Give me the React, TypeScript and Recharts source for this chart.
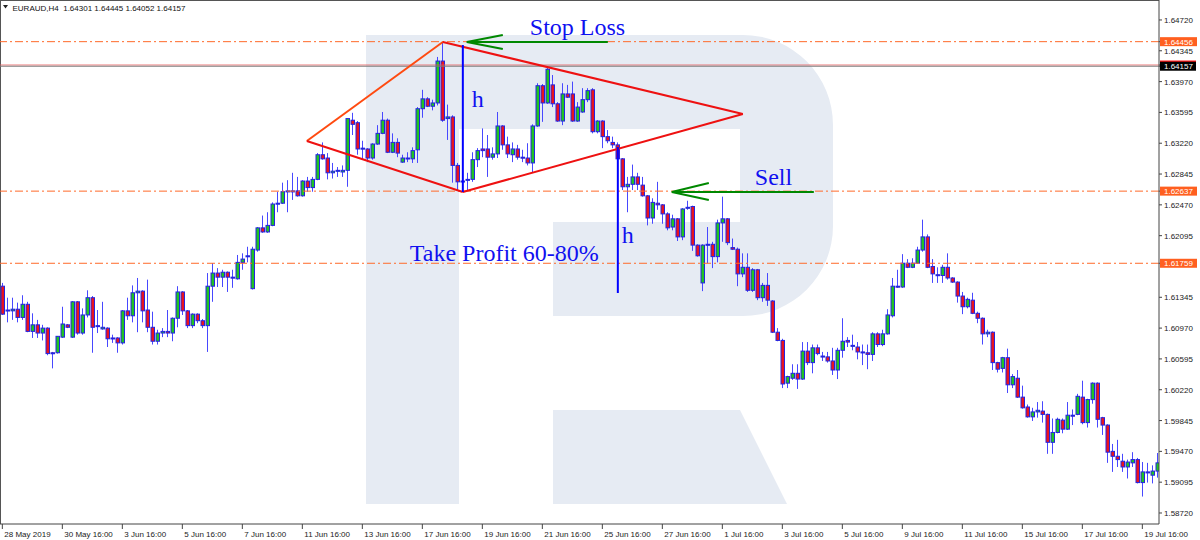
import React from 'react';
import { ComposedChart, Bar, XAxis, YAxis, ReferenceLine, ReferenceDot } from 'recharts';

// ---- candle data (EURAUD H4), one entry per bar ----
const opens = [
1.6148,1.6119,1.6118,1.6120,1.6110,1.6126,1.6093,1.6101,1.6091,1.6097,
1.6067,1.6067,1.6086,1.6101,1.6086,1.6129,1.6091,1.6113,1.6134,1.6099,
1.6096,1.6097,1.6085,1.6085,1.6079,1.6118,1.6112,1.6140,1.6142,1.6119,
1.6098,1.6081,1.6091,1.6093,1.6091,1.6109,1.6141,1.6118,1.6100,1.6114,
1.6106,1.6100,1.6148,1.6164,1.6159,1.6165,1.6159,1.6157,1.6177,1.6184,
1.6145,1.6192,1.6219,1.6214,1.6222,1.6248,1.6249,1.6263,1.6264,1.6264,
1.6258,1.6276,1.6268,1.6278,1.6308,1.6304,1.6286,1.6288,1.6287,1.6289,
1.6350,1.6347,1.6315,1.6315,1.6304,1.6321,1.6334,1.6350,1.6311,1.6323,
1.6299,1.6304,1.6303,1.6314,1.6364,1.6376,1.6367,1.6371,1.6422,1.6352,
1.6354,1.6295,1.6275,1.6277,1.6278,1.6302,1.6315,1.6315,1.6305,1.6309,
1.6343,1.6320,1.6308,1.6315,1.6305,1.6304,1.6298,1.6343,1.6392,1.6371,
1.6393,1.6370,1.6349,1.6382,1.6382,1.6349,1.6360,1.6375,1.6387,1.6336,
1.6349,1.6330,1.6323,1.6320,1.6303,1.6269,1.6272,1.6281,1.6271,1.6258,
1.6231,1.6249,1.6247,1.6236,1.6220,1.6230,1.6208,1.6243,1.6245,1.6198,
1.6152,1.6198,1.6199,1.6184,1.6225,1.6230,1.6195,1.6193,1.6163,1.6171,
1.6143,1.6168,1.6134,1.6149,1.6130,1.6092,1.6082,1.6030,1.6036,1.6042,
1.6035,1.6069,1.6055,1.6073,1.6063,1.6062,1.6057,1.6046,1.6070,1.6082,
1.6075,1.6074,1.6068,1.6067,1.6065,1.6090,1.6077,1.6090,1.6112,1.6148,
1.6147,1.6176,1.6171,1.6176,1.6192,1.6208,1.6172,1.6162,1.6161,1.6171,
1.6158,1.6153,1.6136,1.6123,1.6131,1.6115,1.6109,1.6090,1.6092,1.6055,
1.6048,1.6061,1.6028,1.6036,1.6013,1.6001,1.5989,1.5995,1.5996,1.5992,
1.5958,1.5970,1.5985,1.5974,1.5991,1.5992,1.6013,1.5982,1.6010,1.6030,
1.5988,1.5979,1.5947,1.5941,1.5935,1.5928,1.5933,1.5937,1.5909,1.5922,
1.5918,1.5923];
const highs = [
1.6152,1.6134,1.6134,1.6128,1.6137,1.6129,1.6115,1.6107,1.6101,1.6098,
1.6068,1.6087,1.6123,1.6102,1.6130,1.6130,1.6121,1.6143,1.6136,1.6119,
1.6129,1.6098,1.6089,1.6086,1.6119,1.6134,1.6149,1.6158,1.6143,1.6156,
1.6117,1.6095,1.6097,1.6119,1.6110,1.6148,1.6142,1.6119,1.6115,1.6115,
1.6108,1.6164,1.6176,1.6170,1.6168,1.6166,1.6168,1.6186,1.6188,1.6196,
1.6196,1.6220,1.6234,1.6238,1.6250,1.6263,1.6274,1.6277,1.6286,1.6281,
1.6277,1.6281,1.6281,1.6310,1.6323,1.6310,1.6298,1.6293,1.6295,1.6352,
1.6359,1.6349,1.6325,1.6316,1.6322,1.6344,1.6360,1.6352,1.6334,1.6328,
1.6308,1.6311,1.6317,1.6366,1.6387,1.6378,1.6375,1.6427,1.6445,1.6369,
1.6356,1.6298,1.6289,1.6286,1.6311,1.6316,1.6340,1.6332,1.6317,1.6360,
1.6344,1.6330,1.6323,1.6320,1.6314,1.6322,1.6345,1.6395,1.6394,1.6414,
1.6405,1.6372,1.6395,1.6393,1.6397,1.6372,1.6389,1.6389,1.6389,1.6350,
1.6350,1.6338,1.6330,1.6323,1.6304,1.6281,1.6296,1.6286,1.6281,1.6259,
1.6255,1.6275,1.6248,1.6238,1.6235,1.6231,1.6243,1.6252,1.6246,1.6199,
1.6199,1.6220,1.6202,1.6229,1.6257,1.6231,1.6206,1.6195,1.6188,1.6188,
1.6170,1.6169,1.6152,1.6164,1.6131,1.6097,1.6084,1.6039,1.6053,1.6053,
1.6080,1.6080,1.6077,1.6077,1.6068,1.6068,1.6073,1.6073,1.6109,1.6086,
1.6089,1.6080,1.6077,1.6077,1.6092,1.6092,1.6095,1.6120,1.6158,1.6168,
1.6187,1.6181,1.6182,1.6196,1.6229,1.6211,1.6181,1.6171,1.6174,1.6188,
1.6159,1.6154,1.6141,1.6134,1.6140,1.6117,1.6110,1.6095,1.6093,1.6056,
1.6062,1.6072,1.6041,1.6046,1.6027,1.6004,1.6000,1.6007,1.6008,1.5993,
1.5987,1.5988,1.5987,1.6007,1.5998,1.6017,1.6033,1.6011,1.6031,1.6031,
1.5989,1.5980,1.5956,1.5961,1.5944,1.5937,1.5946,1.5939,1.5934,1.5933,
1.5930,1.5945];
const lows = [
1.6113,1.6104,1.6107,1.6104,1.6107,1.6092,1.6085,1.6085,1.6082,1.6064,
1.6048,1.6066,1.6085,1.6097,1.6085,1.6089,1.6089,1.6110,1.6067,1.6091,
1.6095,1.6074,1.6079,1.6067,1.6077,1.6107,1.6104,1.6092,1.6104,1.6092,
1.6077,1.6077,1.6086,1.6086,1.6081,1.6098,1.6113,1.6097,1.6097,1.6103,
1.6097,1.6068,1.6129,1.6147,1.6147,1.6141,1.6146,1.6156,1.6168,1.6177,
1.6144,1.6190,1.6213,1.6213,1.6221,1.6238,1.6248,1.6238,1.6253,1.6257,
1.6257,1.6263,1.6263,1.6277,1.6302,1.6278,1.6279,1.6281,1.6281,1.6269,
1.6332,1.6308,1.6302,1.6299,1.6302,1.6320,1.6333,1.6310,1.6310,1.6305,
1.6298,1.6299,1.6298,1.6298,1.6353,1.6366,1.6362,1.6368,1.6348,1.6326,
1.6274,1.6265,1.6269,1.6265,1.6275,1.6293,1.6305,1.6281,1.6302,1.6304,
1.6314,1.6304,1.6299,1.6302,1.6299,1.6295,1.6286,1.6342,1.6348,1.6370,
1.6366,1.6348,1.6344,1.6377,1.6348,1.6348,1.6359,1.6372,1.6334,1.6334,
1.6316,1.6322,1.6316,1.6295,1.6265,1.6238,1.6265,1.6265,1.6257,1.6222,
1.6224,1.6241,1.6224,1.6216,1.6216,1.6203,1.6204,1.6241,1.6191,1.6184,
1.6142,1.6176,1.6170,1.6177,1.6202,1.6198,1.6192,1.6148,1.6159,1.6141,
1.6141,1.6131,1.6129,1.6124,1.6091,1.6081,1.6024,1.6024,1.6034,1.6023,
1.6034,1.6052,1.6042,1.6064,1.6057,1.6055,1.6040,1.6035,1.6061,1.6074,
1.6070,1.6059,1.6052,1.6047,1.6057,1.6074,1.6075,1.6089,1.6110,1.6146,
1.6146,1.6170,1.6170,1.6175,1.6190,1.6170,1.6152,1.6152,1.6152,1.6156,
1.6152,1.6128,1.6114,1.6121,1.6114,1.6103,1.6077,1.6086,1.6046,1.6043,
1.6043,1.6018,1.6024,1.6012,1.5999,1.5988,1.5984,1.5988,1.5982,1.5944,
1.5944,1.5969,1.5969,1.5973,1.5979,1.5991,1.5980,1.5976,1.6005,1.5976,
1.5967,1.5933,1.5922,1.5928,1.5922,1.5914,1.5928,1.5908,1.5892,1.5909,
1.5908,1.5915];
const closes = [
1.6114,1.6118,1.6120,1.6110,1.6126,1.6093,1.6101,1.6091,1.6097,1.6066,
1.6066,1.6087,1.6102,1.6098,1.6129,1.6091,1.6113,1.6134,1.6098,1.6100,
1.6098,1.6084,1.6084,1.6079,1.6118,1.6112,1.6140,1.6142,1.6118,1.6098,
1.6081,1.6091,1.6093,1.6091,1.6109,1.6141,1.6118,1.6100,1.6114,1.6106,
1.6100,1.6148,1.6164,1.6159,1.6165,1.6159,1.6158,1.6177,1.6181,1.6185,
1.6193,1.6219,1.6214,1.6222,1.6248,1.6249,1.6263,1.6264,1.6263,1.6258,
1.6276,1.6268,1.6278,1.6308,1.6303,1.6286,1.6288,1.6289,1.6289,1.6352,
1.6345,1.6315,1.6316,1.6304,1.6321,1.6334,1.6350,1.6311,1.6323,1.6310,
1.6304,1.6303,1.6313,1.6364,1.6376,1.6367,1.6371,1.6422,1.6350,1.6354,
1.6295,1.6275,1.6276,1.6278,1.6302,1.6313,1.6313,1.6305,1.6309,1.6343,
1.6320,1.6309,1.6315,1.6305,1.6304,1.6298,1.6343,1.6392,1.6371,1.6412,
1.6370,1.6349,1.6382,1.6378,1.6349,1.6366,1.6375,1.6386,1.6336,1.6349,
1.6330,1.6325,1.6320,1.6303,1.6269,1.6272,1.6281,1.6272,1.6258,1.6231,
1.6250,1.6247,1.6236,1.6219,1.6230,1.6208,1.6242,1.6244,1.6198,1.6185,
1.6198,1.6199,1.6184,1.6225,1.6230,1.6201,1.6193,1.6163,1.6171,1.6143,
1.6168,1.6134,1.6149,1.6131,1.6092,1.6082,1.6029,1.6038,1.6042,1.6035,
1.6069,1.6055,1.6073,1.6066,1.6062,1.6057,1.6046,1.6070,1.6081,1.6080,
1.6076,1.6068,1.6067,1.6065,1.6090,1.6077,1.6090,1.6113,1.6148,1.6147,
1.6176,1.6171,1.6176,1.6192,1.6208,1.6171,1.6163,1.6161,1.6171,1.6158,
1.6153,1.6136,1.6123,1.6132,1.6115,1.6109,1.6090,1.6092,1.6055,1.6047,
1.6061,1.6028,1.6038,1.6013,1.6000,1.5989,1.5995,1.5997,1.5992,1.5958,
1.5970,1.5986,1.5974,1.5991,1.5990,1.6014,1.5982,1.6010,1.6030,1.5986,
1.5979,1.5946,1.5941,1.5937,1.5928,1.5934,1.5937,1.5909,1.5922,1.5921,
1.5923,1.5933];

// ---- axes ----
const timeTickIndex = [0,12,24,36,48,60,72,84,96,108,120,132,144,156,168,180,192,204,216,228];
const timeTickLabels = ['28 May 2019','30 May 16:00','3 Jun 16:00','5 Jun 16:00','7 Jun 16:00','11 Jun 16:00','13 Jun 16:00','17 Jun 16:00','19 Jun 16:00','21 Jun 16:00','25 Jun 16:00','27 Jun 16:00','1 Jul 16:00','3 Jul 16:00','5 Jul 16:00','9 Jul 16:00','11 Jul 16:00','15 Jul 16:00','17 Jul 16:00','19 Jul 16:00'];
const priceTicks = [1.64720,1.64345,1.63970,1.63595,1.63220,1.62845,1.62470,1.62095,1.61345,1.60970,1.60595,1.60220,1.59845,1.59470,1.59095,1.58720];
const levelPrices = [1.64456, 1.62637, 1.61759];
const askPrice = 1.64172;
const bidPrice = 1.64157;
const titleText = 'EURAUD,H4  1.64301 1.64445 1.64052 1.64157';

// ---- pattern annotation (bar index, price) ----
const diamondK = [60.9, 88.1, 148.1, 92.1];
const diamondP = [1.63247, 1.64452, 1.63576, 1.62626];
const hK = [92.1, 123.1];
const hTop = [1.64415, 1.63174];
const hBottom = [1.62626, 1.61397];
const arrowTipK = [92.9, 133.9];
const arrowTailK = [121.1, 162.3];
const arrowP = [1.64452, 1.62626];
const arrowBarbK = [100.1, 141.3];
const arrowBarbUp = [1.64537, 1.62736];
const arrowBarbDown = [1.64367, 1.62529];
const noteTexts = ['Stop Loss', 'Take Profit 60-80%', 'Sell', 'h', 'h'];
const noteK = [105.5, 81.5, 150.5, 93.9, 123.9];
const noteP = [1.64537, 1.61787, 1.62712, 1.63661, 1.62006];

const data = opens.map((o, i) => ({ i, open: o, high: highs[i], low: lows[i], close: closes[i] }));

const FONT = "'Liberation Sans', Arial, sans-serif";
const SERIF = "'Liberation Serif', 'Times New Roman', serif";

const Candle = (props: any) => {
  const { x, y, width, height } = props;
  const d = props.payload || props;
  const { open, close, high, low } = d;
  if (x == null || y == null) return null;
  const cx = Math.round(x + width / 2) + 0.5;
  const span = high - low || 1e-9;
  const py = (v: number) => y + ((high - v) / span) * height;
  const yo = py(open);
  const yc = py(close);
  const top = Math.min(yo, yc);
  const bot = Math.max(yo, yc);
  const up = close > open;
  const down = close < open;
  return (
    <g>
      <line x1={cx} x2={cx} y1={y} y2={y + height} stroke="#4848ff" strokeWidth={1} />
      {up || down ? (
        <rect x={cx - 1.5} y={top} width={3.5} height={Math.max(bot - top, 1)}
          fill={up ? '#22c322' : '#e8141e'} stroke="#2424e0" strokeWidth={1} />
      ) : (
        <line x1={cx - 2} x2={cx + 2} y1={yo} y2={yo} stroke="#2424e0" strokeWidth={1.2} />
      )}
    </g>
  );
};

const TimeTick = (props: any) => {
  const { x, y, payload } = props;
  const idx = timeTickIndex.indexOf(payload.value);
  return (
    <text x={x + 2} y={y + 8} fontSize={8} fontFamily={FONT} fill="#222" textAnchor="start">
      {idx >= 0 ? timeTickLabels[idx] : ''}
    </text>
  );
};

const PriceTick = (props: any) => {
  const { x, y, payload } = props;
  const v = payload.value;
  const label = v.toFixed(5);
  if (v === askPrice) {
    return <rect x={x - 4} y={y - 4.5} width={36} height={9} fill="#ff1a1a" />;
  }
  if (v === bidPrice) {
    return (
      <g>
        <rect x={x - 4} y={y - 4.5} width={36} height={9} fill="#000" />
        <text x={x} y={y + 3} fontSize={8} fontFamily={FONT} fill="#fff">{label}</text>
      </g>
    );
  }
  if (levelPrices.includes(v)) {
    return (
      <g>
        <rect x={x - 4} y={y - 4.5} width={37} height={9} fill="#ff5f1f" />
        <text x={x} y={y + 3} fontSize={8} fontFamily={FONT} fill="#fff">{label}</text>
      </g>
    );
  }
  return (
    <text x={x} y={y + 3} fontSize={8} fontFamily={FONT} fill="#222">{label}</text>
  );
};

const makeNote = (text: string) => (p: any) => (
  <text x={p.cx} y={p.cy} fontSize={24} fontFamily={SERIF} fill="#1010f0">{text}</text>
);

export default function App() {
  const yTicks = [...priceTicks, askPrice, bidPrice, ...levelPrices];
  const edges = [[0, 1, '#ff4a10'], [1, 2, '#ee1111'], [2, 3, '#ee1111'], [3, 0, '#ee1111']] as const;
  return (
    <div style={{ position: 'absolute', left: 0, top: 0, width: 1200, height: 540, background: '#fff', overflow: 'hidden' }}>
      <svg width={1200} height={540} style={{ position: 'absolute', left: 0, top: 0 }}>
        <path d="M366,35 H743 A90,90 0 0 1 833,125 V226 A90,90 0 0 1 743,316 H553 V222 H740 V129 H459 V504 H366 Z" fill="#e6ebf3" />
        <path d="M553,410 H740 L787,504 H553 Z" fill="#e6ebf3" />
        <line x1={0.5} y1={0.5} x2={0.5} y2={524} stroke="#555" />
        <line x1={0} y1={0.5} x2={1159} y2={0.5} stroke="#555" />
        <polygon points="3,5 8,5 5.5,8.5" fill="#222" />
        <text x={12.5} y={10.5} fontSize={8} fontFamily={FONT} fill="#111" style={{ whiteSpace: 'pre' }}>{titleText}</text>
      </svg>
      <div style={{ position: 'absolute', left: 0, top: 0 }}>
        <ComposedChart width={1200} height={540} data={data} margin={{ top: 0, right: 0, bottom: 0, left: 0 }}>
          <XAxis type="number" dataKey="i" scale="linear" domain={[-0.467, 231.333]} allowDataOverflow
            ticks={timeTickIndex} interval={0} tick={(p: any) => <TimeTick {...p} />}
            tickSize={5} tickMargin={0} height={16} stroke="#444" />
          <YAxis orientation="right" type="number" domain={[1.58586, 1.64963]} allowDataOverflow
            ticks={yTicks} interval={0} tick={(p: any) => <PriceTick {...p} />}
            tickSize={3} tickMargin={2} width={41} stroke="#444" />
          {levelPrices.map((v) => (
            <ReferenceLine key={'lv' + v} y={v} stroke="#ff6a2a" strokeDasharray="8 3 2 3" strokeWidth={1} />
          ))}
          <ReferenceLine y={askPrice} stroke="#e85a5a" strokeWidth={0.8} />
          <ReferenceLine y={bidPrice} stroke="#7a7a7a" strokeWidth={1} />
          <Bar dataKey={(d: any) => [d.low, d.high]} barSize={4} shape={(p: any) => <Candle {...p} />} isAnimationActive={false} />
          {edges.map(([a, b, c], n) => (
            <ReferenceLine key={'e' + n} stroke={c} strokeWidth={2}
              segment={[{ x: diamondK[a], y: diamondP[a] }, { x: diamondK[b], y: diamondP[b] }]} />
          ))}
          {hK.map((k, n) => (
            <ReferenceLine key={'h' + n} stroke="#0000ff" strokeWidth={2}
              segment={[{ x: k, y: hTop[n] }, { x: k, y: hBottom[n] }]} />
          ))}
          {arrowTipK.map((k, n) => (
            <React.Fragment key={'a' + n}>
              <ReferenceLine stroke="#008800" strokeWidth={2}
                segment={[{ x: k, y: arrowP[n] }, { x: arrowTailK[n], y: arrowP[n] }]} />
              <ReferenceLine stroke="#008800" strokeWidth={2}
                segment={[{ x: k, y: arrowP[n] }, { x: arrowBarbK[n], y: arrowBarbUp[n] }]} />
              <ReferenceLine stroke="#008800" strokeWidth={2}
                segment={[{ x: k, y: arrowP[n] }, { x: arrowBarbK[n], y: arrowBarbDown[n] }]} />
            </React.Fragment>
          ))}
          {noteTexts.map((t, n) => (
            <ReferenceDot key={'t' + n} x={noteK[n]} y={noteP[n]} r={0} shape={makeNote(t)} />
          ))}
        </ComposedChart>
      </div>
    </div>
  );
}
